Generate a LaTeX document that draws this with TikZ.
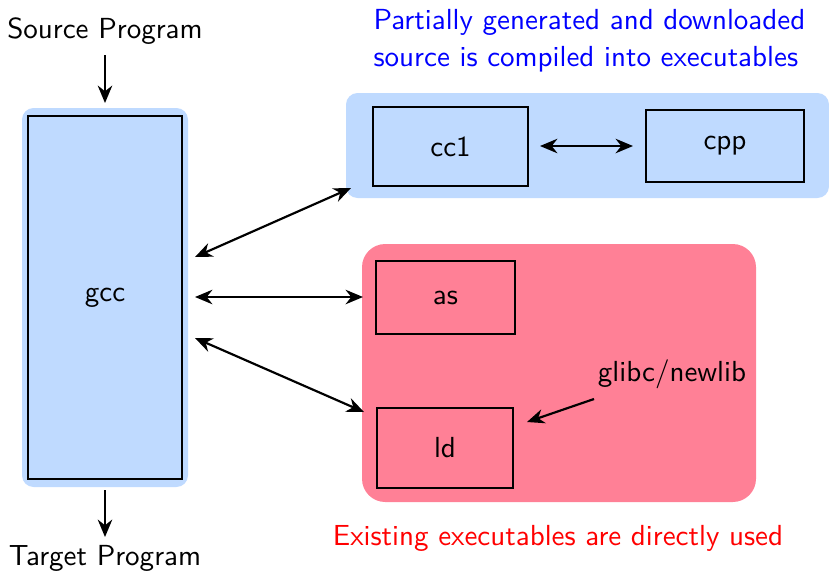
\documentclass[tikz,border=0pt]{standalone}
\usetikzlibrary{fit,arrows.meta}
\definecolor{bgblue}{RGB}{191,218,255}
\definecolor{bgred}{RGB}{255,128,150}
\begin{document}
\begin{tikzpicture}[x=0.3446pt,y=-0.3446pt,font=\sffamily,
  every node/.style={inner sep=0pt},
  box/.style={draw,line width=0.75pt},
  conn/.style={line width=0.75pt,{Stealth[length=6pt,width=5pt]}-{Stealth[length=6pt,width=5pt]}},
  single/.style={line width=0.75pt,-{Stealth[length=6pt,width=5pt]}}]
\useasboundingbox (0,0) rectangle (829,575);
% backgrounds
\node[fit={(22,108) (188,487)},fill=bgblue,rounded corners=4pt] (gccbg) {};
\node[fit={(346,93) (829,198)},fill=bgblue,rounded corners=4pt] (topbg) {};
\node[fit={(362,244) (756,502)},fill=bgred,rounded corners=8pt] (redbg) {};
% boxes
\node[fit={(28,116) (182,479)},box,label=center:gcc] (gcc) {};
\node[fit={(373,107) (528,186)},box,label=center:cc1] (cc1) {};
\node[fit={(646,110) (804,182)},box,label=center:cpp] (cpp) {};
\node[fit={(376,261) (515,334)},box,label=center:as] (as) {};
\node[fit={(377,408) (513,488)},box,label=center:ld] (ld) {};
% texts
\node (src) at (105,31) {Source Program};
\node (tgt) at (105,558) {Target Program};
\node[blue,align=left,anchor=north west] (toptxt) at (373,9) {Partially generated and downloaded\\[0.6pt]source is compiled into executables};
\node[red] (redtxt) at (558,538) {Existing executables are directly used};
\node (glibc) at (672,374) {glibc/newlib};
% coordinates
\coordinate (g1) at (195,257);
\coordinate (g2) at (195,297);
\coordinate (g3) at (195,338);
\coordinate (t1) at (351,188);
\coordinate (a1) at (363,297);
\coordinate (l1) at (364,412);
\coordinate (s1) at (105,55);
\coordinate (s2) at (105,103);
\coordinate (d1) at (105,490);
\coordinate (d2) at (105,537);
\coordinate (c1) at (540,146);
\coordinate (c2) at (633,146);
\coordinate (gl1) at (594,399);
\coordinate (gl2) at (527,422);
% connectors
\draw[single] (s1) -- (s2);
\draw[single] (d1) -- (d2);
\draw[conn] (g1) -- (t1);
\draw[conn] (g2) -- (a1);
\draw[conn] (g3) -- (l1);
\draw[conn] (c1) -- (c2);
\draw[single] (gl1) -- (gl2);
\end{tikzpicture}
\end{document}
